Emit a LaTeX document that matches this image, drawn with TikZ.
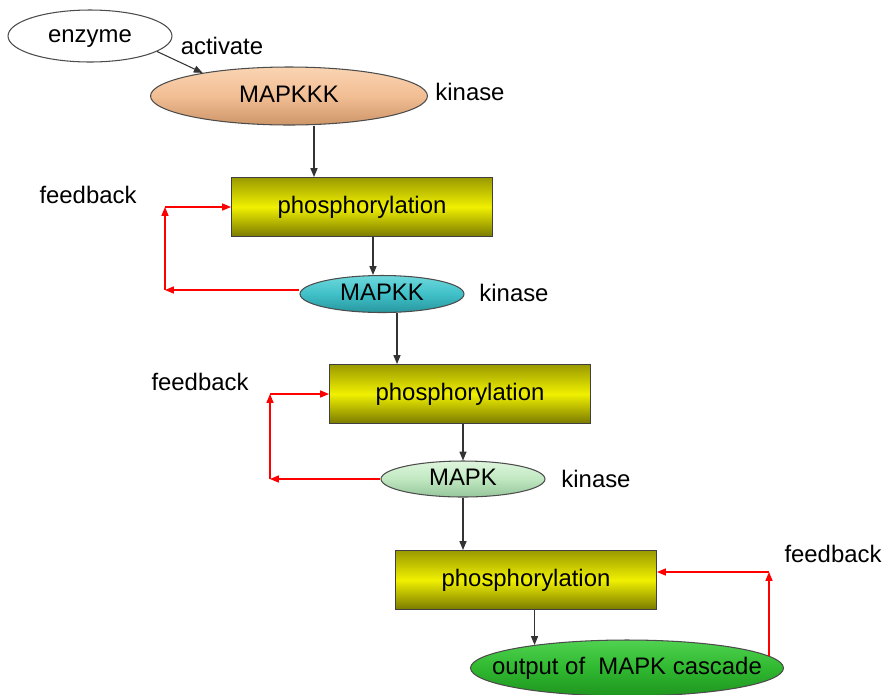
\documentclass[tikz,border=0pt]{standalone}
\usepackage{fontspec}
\setmainfont{Liberation Sans}
\usetikzlibrary{shapes.geometric,arrows.meta}
\definecolor{oliveA}{HTML}{9A9A00}
\definecolor{yellowA}{HTML}{F0F000}
\definecolor{oliveB}{HTML}{7A7A00}

\begin{document}
\begin{tikzpicture}[x=0.02cm,y=-0.02cm,
  every node/.style={font=\fontsize{13.6}{16}\selectfont,text height=0.9em,text depth=0.21em},
  oval/.style={ellipse,draw=black!70,line width=0.6pt,inner sep=0pt},
  phos/.style={rectangle,draw=black!75,line width=0.6pt,minimum width=5.22cm,minimum height=1.18cm,
    top color=oliveA,bottom color=oliveB,middle color=yellowA},
  flow/.style={-{Triangle[length=5pt,width=4pt]},black!80,line width=0.6pt},
  fb/.style={-{Triangle[length=5pt,width=4pt]},red,line width=0.6pt}]
\def\pfeil#1#2#3{\draw[flow] (#1 -| #3) -- (#2 -| #3);}
\useasboundingbox (0,0) rectangle (885,694);

% cascade
\node[oval,fill=white,minimum width=3.28cm,minimum height=1.04cm] at (90,36) (enzyme) {enzyme};
\node[oval,minimum width=5.54cm,minimum height=1.16cm,top color={rgb,255:red,250;green,212;blue,178},bottom color={rgb,255:red,205;green,150;blue,105},middle color={rgb,255:red,242;green,190;blue,148}] at (289,96) (mapkkk) {MAPKKK};
\node[phos] at (362,207) (ph1) {phosphorylation};
\node[oval,minimum width=3.28cm,minimum height=0.74cm,top color={rgb,255:red,110;green,216;blue,220},bottom color={rgb,255:red,40;green,150;blue,158},middle color={rgb,255:red,64;green,192;blue,200}] at (382,294) (mapkk) {MAPKK};
\node[phos] at (460,394) (ph2) {phosphorylation};
\node[oval,minimum width=3.28cm,minimum height=0.72cm,top color={rgb,255:red,222;green,245;blue,222},bottom color={rgb,255:red,150;green,198;blue,156},middle color={rgb,255:red,192;green,232;blue,192}] at (463,479) (mapk) {MAPK};
\node[phos] at (526,580) (ph3) {phosphorylation};
\node[oval,minimum width=6.26cm,minimum height=1.12cm,top color={rgb,255:red,80;green,210;blue,80},bottom color={rgb,255:red,30;green,150;blue,30},middle color={rgb,255:red,48;green,184;blue,48},
  label=center:{output of\ \ MAPK cascade}] at (627,668) (output) {};

% labels
\node at (222,48) (act) {activate};
\node at (470,94) (kin1) {kinase};
\node at (514,295) (kin2) {kinase};
\node at (596,481) (kin3) {kinase};
\node at (88,197) (fbt1) {feedback};
\node at (200,384) (fbt2) {feedback};
\node at (833,556) (fbt3) {feedback};

% columns of the down arrows
\coordinate (d1) at (314,0);
\coordinate (d2) at (373,0);
\coordinate (d3) at (397,0);
\coordinate (d4) at (463,0);

\draw[flow] (enzyme.-13) -- (mapkkk.165);
\pfeil{mapkkk.south}{ph1.north}{d1}
\pfeil{ph1.south}{mapkk.north}{d2}
\pfeil{mapkk.south}{ph2.north}{d3}
\pfeil{ph2.south}{mapk.north}{d4}
\pfeil{mapk.south}{ph3.north}{d4}
\draw[flow] (ph3.south -| output.166) -- (output.166);

% feedback loops
\coordinate (f1) at (165,290);
\coordinate (f2) at (270,479);
\coordinate (f3) at (769,572);
\draw[fb] (mapkk.west |- f1) -- (f1);
\draw[fb] (f1) -- (f1 |- ph1.west);
\draw[fb] (f1 |- ph1.west) -- (ph1.west);
\draw[fb] (mapk.west) -- (f2);
\draw[fb] (f2) -- (f2 |- ph2.west);
\draw[fb] (f2 |- ph2.west) -- (ph2.west);
\draw[fb] (output.5 -| f3) -- (f3);
\draw[fb] (f3) -- (ph3.east |- f3);
\end{tikzpicture}
\end{document}
